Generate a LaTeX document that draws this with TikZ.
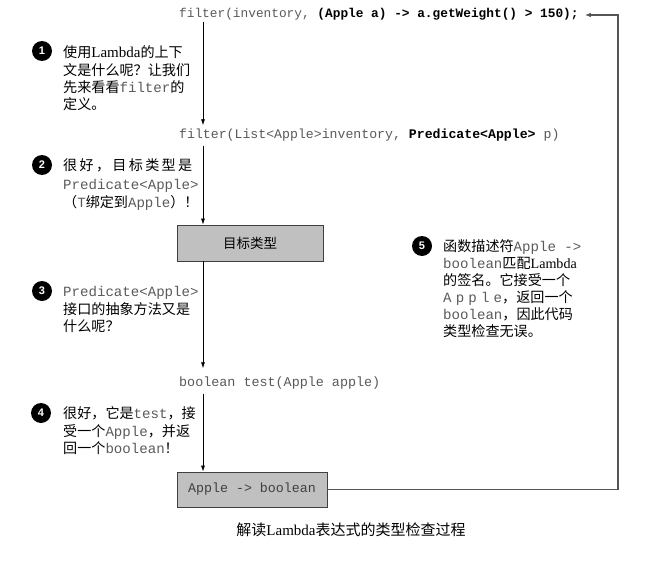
\documentclass[tikz,border=0pt]{standalone}
\usepackage{fontspec}
\setmainfont{Liberation Serif}
\setmonofont{Liberation Mono}
\newfontfamily\zhfont{Noto Sans CJK SC}
\newfontfamily\numfont{Liberation Sans}
\usetikzlibrary{arrows.meta,calc}
\definecolor{codegray}{HTML}{5A5A5A}
\definecolor{boxfill}{HTML}{C0C0C0}
\definecolor{boxline}{HTML}{404040}
\definecolor{fbline}{HTML}{555555}
\newcommand\zh[1]{{\zhfont #1}}
\newcommand\codetxt[1]{{\ttfamily\color{codegray}#1}}
\newcommand\codebold[1]{{\ttfamily\bfseries\color{black}#1}}
\begin{document}
\begin{tikzpicture}[x=1pt,y=-1pt,
  arr/.style={draw=black,line width=0.7pt,-{Latex[length=6pt,width=4pt]}},
  fb/.style={draw=fbline,line width=1.1pt,-{Latex[length=6pt,width=4.5pt]}},
  codeline/.style={inner sep=0pt,anchor=west,text height=8pt,text depth=3pt},
  graybox/.style={draw=boxline,fill=boxfill,line width=0.8pt,inner sep=0pt},
  numc/.style={circle,fill=black,minimum size=20pt,inner sep=0pt,text=white,
    font=\numfont\bfseries\fontsize{11}{11}\selectfont},
  note/.style={inner sep=0pt,anchor=north west,align=left,
    font=\fontsize{14.1}{17}\selectfont},
]
\fill[white] (0,0) rectangle (658,567);
\useasboundingbox (0,0) rectangle (658,567);
\coordinate (col) at (203,0);
\coordinate (rc) at (618,0);

% code lines
\node[codeline,font=\fontsize{12.8}{15}\selectfont] (top) at (179,15)
  {\codetxt{filter(inventory, }\codebold{(Apple a) -> a.getWeight() > 150);}};
\node[codeline,font=\fontsize{13.2}{15}\selectfont] (sig) at (179,136)
  {\codetxt{filter(List<Apple>inventory, }\codebold{Predicate<Apple>}\codetxt{\ p)}};
\node[graybox,minimum width=146pt,minimum height=36pt,
  font=\fontsize{13.5}{15}\selectfont] (b1) at (250,243) {\zh{目标类型}};
\node[codeline,font=\fontsize{13.4}{15}\selectfont] (test) at (179,384)
  {\codetxt{boolean test(Apple apple)}};
\node[graybox,minimum width=150pt,minimum height=35pt,
  font=\fontsize{13.3}{15}\selectfont] (b2) at (252,489.5)
  {\textcolor{boxline}{\ttfamily Apple -> boolean}};

% connectors
\draw[arr,shorten <=1pt,shorten >=5pt] (top.south -| col) -- (sig.north -| col);
\draw[arr,shorten <=4pt] (sig.south -| col) -- (b1.north -| col);
\draw[arr,shorten >=10pt] (b1.south -| col) -- (test.north -| col);
\draw[arr,shorten <=4pt] (test.south -| col) -- (b2.north -| col);
\draw[fb,shorten >=6pt] (b2.east) -- (b2.east -| rc) -- (top.east -| rc) -- (top.east);

% annotations
\node[numc] (n1) at (42,51) {1};
\node[note] (t1) at (63,45)
  {\strut\zh{使用}\fontsize{15}{17}\selectfont Lambda\zh{\fontsize{14.1}{17}\selectfont 的上下}\\
   \zh{文是什么呢？让我们}\\
   \zh{先来看看}\codetxt{filter}\zh{的}\\
   \zh{定义。}};

\node[numc] (n2) at (42,165) {2};
\node[note,font=\fontsize{14.1}{18.5}\selectfont] (t2) at (63,157.5)
  {\strut\makebox[129pt][s]{\zh{很\hfil 好\hfil ，\hfil 目\hfil 标\hfil 类\hfil 型\hfil 是}}\\
   \codetxt{Predicate<Apple>}\\
   \zh{（}\codetxt{T}\zh{绑定到}\codetxt{Apple}\zh{）！}};

\node[numc] (n3) at (42,291) {3};
\node[note] (t3) at (63,284)
  {\strut\codetxt{Predicate<Apple>}\\
   \zh{接口的抽象方法又是}\\
   \zh{什么呢？}};

\node[numc] (n4) at (41,413) {4};
\node[note] (t4) at (63,406.5)
  {\strut\zh{很好，它是}\codetxt{test}\zh{，接}\\
   \zh{受一个}\codetxt{Apple}\zh{，并返}\\
   \zh{回一个}\codetxt{boolean}\zh{！}};

\node[numc] (n5) at (422,246) {5};
\node[note] (t5) at (443,239.5)
  {\strut\zh{函数描述符}\codetxt{Apple ->}\\
   \codetxt{boolean}\zh{匹配}Lambda\\
   \zh{的签名。它接受一个}\\
   \makebox[59pt][s]{\codetxt{A\hfil p\hfil p\hfil l\hfil e}}\zh{，返回一个}\\
   \codetxt{boolean}\zh{，因此代码}\\
   \zh{类型检查无误。}};

% caption
\node[inner sep=0pt,font=\fontsize{15}{17}\selectfont] (cap) at (351,530)
  {\zh{解读}Lambda\zh{表达式的类型检查过程}};
\end{tikzpicture}
\end{document}
